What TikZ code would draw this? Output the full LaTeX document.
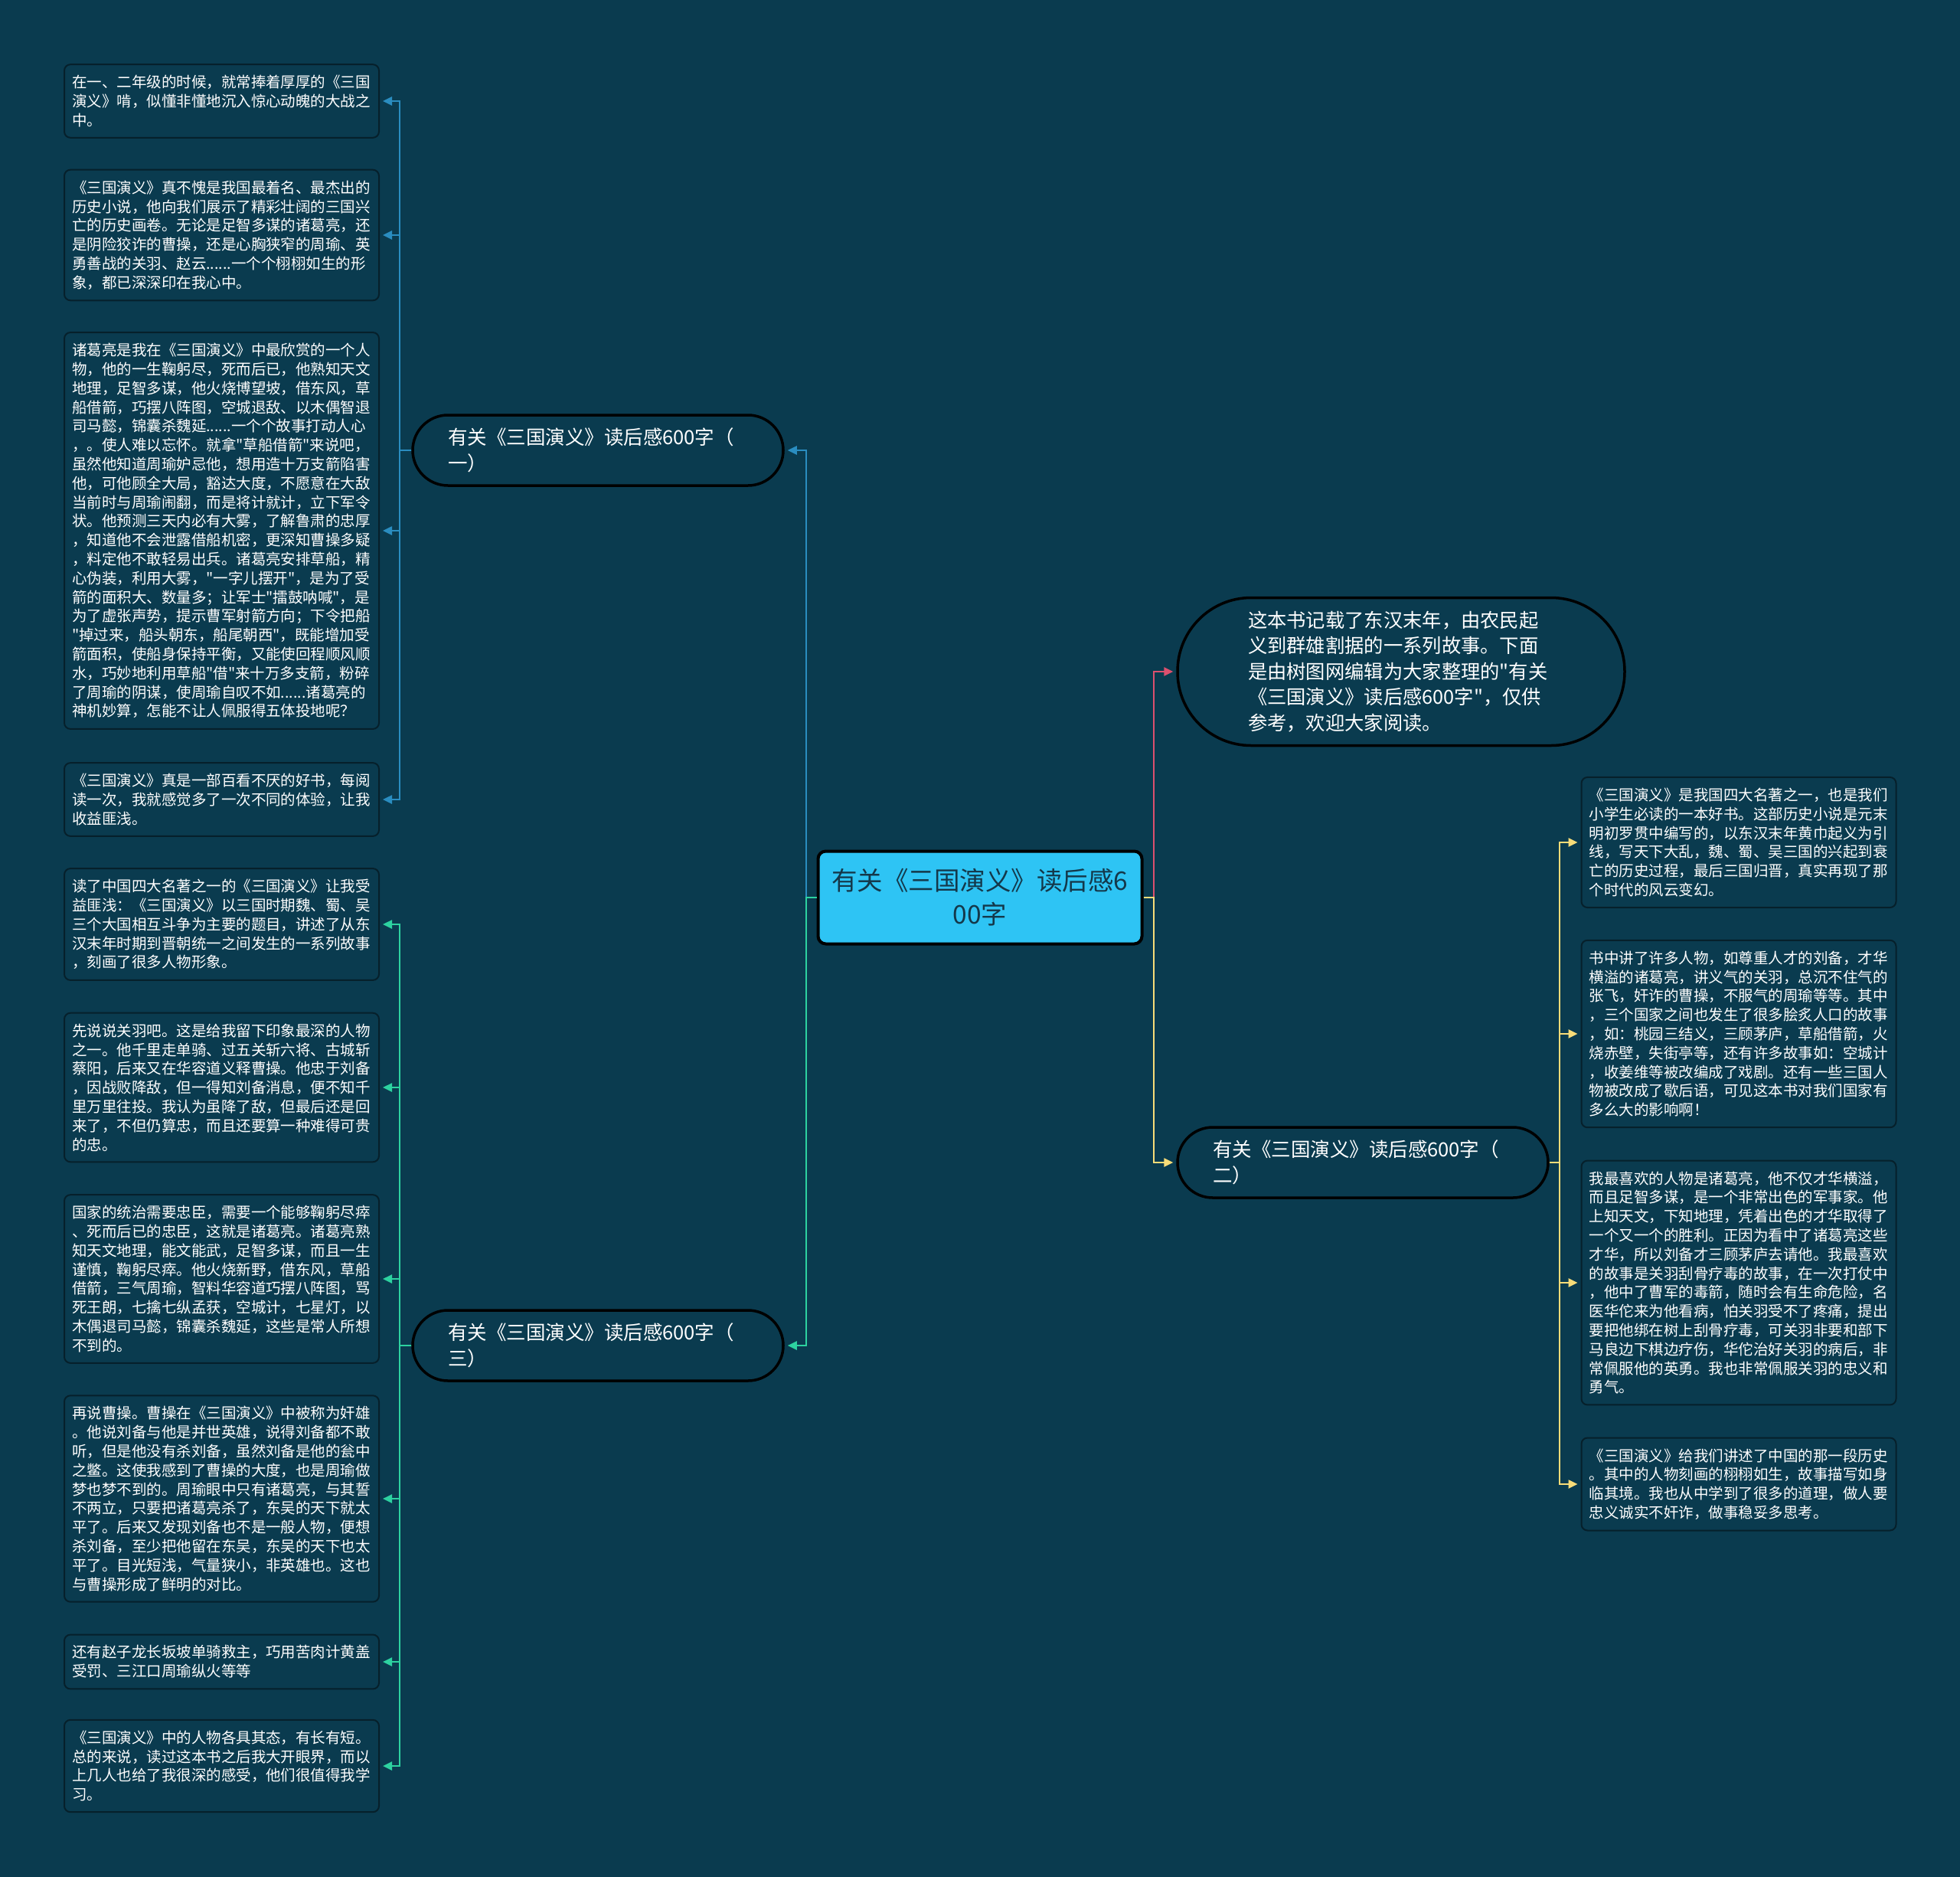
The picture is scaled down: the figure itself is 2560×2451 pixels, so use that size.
\documentclass[tikz,border=0pt]{standalone}
\usepackage{fontspec}
\setmainfont{Noto Sans CJK SC}[Ligatures=TeXOff]
\usetikzlibrary{arrows.meta}
\definecolor{bgcol}{HTML}{0A3B4F}
\definecolor{edgecol}{HTML}{06202B}
\definecolor{rootfill}{HTML}{2EC4F4}
\definecolor{roottext}{HTML}{14384A}
\definecolor{bluecon}{HTML}{2A8DC0}
\definecolor{greencon}{HTML}{2DD2A0}
\definecolor{pinkcon}{HTML}{DC506E}
\definecolor{yellowcon}{HTML}{F8DC78}
\tikzset{
  root/.style={draw=black, line width=4pt, fill=rootfill, text=roottext, rounded corners=10pt,
    minimum width=423pt, minimum height=121pt, text width=392pt, align=center,
    font=\fontsize{33.5}{44}\selectfont},
  branch/.style={draw=black, line width=3.5pt, fill=bgcol, text=white, rounded corners=46pt,
    minimum height=92pt, text width=392pt, inner xsep=46pt, inner ysep=10pt, align=left,
    font=\fontsize{25.5}{34}\selectfont},
  intro/.style={draw=black, line width=3.5pt, fill=bgcol, text=white, rounded corners=96pt,
    minimum height=193pt, text width=400pt, inner xsep=92pt, inner ysep=16pt, align=left,
    font=\fontsize{25.3}{33.5}\selectfont},
  leaf/.style={draw=edgecol, line width=2pt, fill=bgcol, text=white, rounded corners=8pt,
    text width=391pt, inner xsep=10pt, inner ysep=14pt, align=left,
    font=\fontsize{19.5}{24.8}\selectfont},
  con/.style={line width=2.5pt, -{Triangle[length=12pt,width=11pt]}, shorten >=4pt},
}
\begin{document}
\begin{tikzpicture}[x=1pt, y=-1pt]

  \fill[bgcol] (0,0) rectangle (2560,2451);
  \useasboundingbox (0,0) rectangle (2560,2451);

  % trunks
  \coordinate (lt) at (1053,0);
  \coordinate (rt) at (1507,0);
  \coordinate (lbt) at (522,0);
  \coordinate (rbt) at (2037,0);

  \node[root] (root) at (1280,1172) {有关《三国演义》读后感6\\00字};

  \node[branch] (b1) at (781,588) {有关《三国演义》读后感600字（\\一）};
  \node[branch] (b3) at (781,1757) {有关《三国演义》读后感600字（\\三）};
  \node[branch] (b2) at (1780,1518) {有关《三国演义》读后感600字（\\二）};
  \node[intro] (intro) at (1830,877) {这本书记载了东汉末年，由农民起\\义到群雄割据的一系列故事。下面\\是由树图网编辑为大家整理的"有关\\《三国演义》读后感600字"，仅供\\参考，欢迎大家阅读。};

  % left leaves
  \node[leaf] (l1) at (289.5,132) {在一、二年级的时候，就常捧着厚厚的《三国\\演义》啃，似懂非懂地沉入惊心动魄的大战之\\中。};
  \node[leaf] (l2) at (289.5,307) {《三国演义》真不愧是我国最着名、最杰出的\\历史小说，他向我们展示了精彩壮阔的三国兴\\亡的历史画卷。无论是足智多谋的诸葛亮，还\\是阴险狡诈的曹操，还是心胸狭窄的周瑜、英\\勇善战的关羽、赵云......一个个栩栩如生的形\\象，都已深深印在我心中。};
  \node[leaf] (l3) at (289.5,693) {诸葛亮是我在《三国演义》中最欣赏的一个人\\物，他的一生鞠躬尽，死而后已，他熟知天文\\地理，足智多谋，他火烧博望坡，借东风，草\\船借箭，巧摆八阵图，空城退敌、以木偶智退\\司马懿，锦囊杀魏延......一个个故事打动人心\\，。使人难以忘怀。就拿"草船借箭"来说吧，\\虽然他知道周瑜妒忌他，想用造十万支箭陷害\\他，可他顾全大局，豁达大度，不愿意在大敌\\当前时与周瑜闹翻，而是将计就计，立下军令\\状。他预测三天内必有大雾，了解鲁肃的忠厚\\，知道他不会泄露借船机密，更深知曹操多疑\\，料定他不敢轻易出兵。诸葛亮安排草船，精\\心伪装，利用大雾，"一字儿摆开"，是为了受\\箭的面积大、数量多；让军士"擂鼓呐喊"，是\\为了虚张声势，提示曹军射箭方向；下令把船\\"掉过来，船头朝东，船尾朝西"，既能增加受\\箭面积，使船身保持平衡，又能使回程顺风顺\\水，巧妙地利用草船"借"来十万多支箭，粉碎\\了周瑜的阴谋，使周瑜自叹不如......诸葛亮的\\神机妙算，怎能不让人佩服得五体投地呢？};
  \node[leaf] (l4) at (289.5,1044) {《三国演义》真是一部百看不厌的好书，每阅\\读一次，我就感觉多了一次不同的体验，让我\\收益匪浅。};
  \node[leaf] (l5) at (289.5,1207) {读了中国四大名著之一的《三国演义》让我受\\益匪浅：《三国演义》以三国时期魏、蜀、吴\\三个大国相互斗争为主要的题目，讲述了从东\\汉末年时期到晋朝统一之间发生的一系列故事\\，刻画了很多人物形象。};
  \node[leaf] (l6) at (289.5,1420) {先说说关羽吧。这是给我留下印象最深的人物\\之一。他千里走单骑、过五关斩六将、古城斩\\蔡阳，后来又在华容道义释曹操。他忠于刘备\\，因战败降敌，但一得知刘备消息，便不知千\\里万里往投。我认为虽降了敌，但最后还是回\\来了，不但仍算忠，而且还要算一种难得可贵\\的忠。};
  \node[leaf] (l7) at (289.5,1670) {国家的统治需要忠臣，需要一个能够鞠躬尽瘁\\、死而后已的忠臣，这就是诸葛亮。诸葛亮熟\\知天文地理，能文能武，足智多谋，而且一生\\谨慎，鞠躬尽瘁。他火烧新野，借东风，草船\\借箭，三气周瑜，智料华容道巧摆八阵图，骂\\死王朗，七擒七纵孟获，空城计，七星灯，以\\木偶退司马懿，锦囊杀魏延，这些是常人所想\\不到的。};
  \node[leaf] (l8) at (289.5,1957) {再说曹操。曹操在《三国演义》中被称为奸雄\\。他说刘备与他是并世英雄，说得刘备都不敢\\听，但是他没有杀刘备，虽然刘备是他的瓮中\\之鳖。这使我感到了曹操的大度，也是周瑜做\\梦也梦不到的。周瑜眼中只有诸葛亮，与其誓\\不两立，只要把诸葛亮杀了，东吴的天下就太\\平了。后来又发现刘备也不是一般人物，便想\\杀刘备，至少把他留在东吴，东吴的天下也太\\平了。目光短浅，气量狭小，非英雄也。这也\\与曹操形成了鲜明的对比。};
  \node[leaf] (l9) at (289.5,2170) {还有赵子龙长坂坡单骑救主，巧用苦肉计黄盖\\受罚、三江口周瑜纵火等等};
  \node[leaf] (l10) at (289.5,2306) {《三国演义》中的人物各具其态，有长有短。\\总的来说，读过这本书之后我大开眼界，而以\\上几人也给了我很深的感受，他们很值得我学\\习。};

  % right leaves
  \node[leaf] (r1) at (2271,1100) {《三国演义》是我国四大名著之一，也是我们\\小学生必读的一本好书。这部历史小说是元末\\明初罗贯中编写的，以东汉末年黄巾起义为引\\线，写天下大乱，魏、蜀、吴三国的兴起到衰\\亡的历史过程，最后三国归晋，真实再现了那\\个时代的风云变幻。};
  \node[leaf] (r2) at (2271,1350) {书中讲了许多人物，如尊重人才的刘备，才华\\横溢的诸葛亮，讲义气的关羽，总沉不住气的\\张飞，奸诈的曹操，不服气的周瑜等等。其中\\，三个国家之间也发生了很多脍炙人口的故事\\，如：桃园三结义，三顾茅庐，草船借箭，火\\烧赤壁，失街亭等，还有许多故事如：空城计\\，收姜维等被改编成了戏剧。还有一些三国人\\物被改成了歇后语，可见这本书对我们国家有\\多么大的影响啊！};
  \node[leaf] (r3) at (2271,1675) {我最喜欢的人物是诸葛亮，他不仅才华横溢，\\而且足智多谋，是一个非常出色的军事家。他\\上知天文，下知地理，凭着出色的才华取得了\\一个又一个的胜利。正因为看中了诸葛亮这些\\才华，所以刘备才三顾茅庐去请他。我最喜欢\\的故事是关羽刮骨疗毒的故事，在一次打仗中\\，他中了曹军的毒箭，随时会有生命危险，名\\医华佗来为他看病，怕关羽受不了疼痛，提出\\要把他绑在树上刮骨疗毒，可关羽非要和部下\\马良边下棋边疗伤，华佗治好关羽的病后，非\\常佩服他的英勇。我也非常佩服关羽的忠义和\\勇气。};
  \node[leaf] (r4) at (2271,1938) {《三国演义》给我们讲述了中国的那一段历史\\。其中的人物刻画的栩栩如生，故事描写如身\\临其境。我也从中学到了很多的道理，做人要\\忠义诚实不奸诈，做事稳妥多思考。};

  % connectors
  \draw[con, bluecon] (root.west) -- (root.west -| lt) |- (b1.east);
  \draw[con, greencon] (root.west) -- (root.west -| lt) |- (b3.east);
  \draw[con, pinkcon] (root.east) -- (root.east -| rt) |- (intro.west);
  \draw[con, yellowcon] (root.east) -- (root.east -| rt) |- (b2.west);

  \foreach \l in {l1,l2,l3,l4}
    \draw[con, bluecon] (b1.west) -- (b1.west -| lbt) |- (\l.east);
  \foreach \l in {l5,l6,l7,l8,l9,l10}
    \draw[con, greencon] (b3.west) -- (b3.west -| lbt) |- (\l.east);
  \foreach \r in {r1,r2,r3,r4}
    \draw[con, yellowcon] (b2.east) -- (b2.east -| rbt) |- (\r.west);

\end{tikzpicture}
\end{document}
